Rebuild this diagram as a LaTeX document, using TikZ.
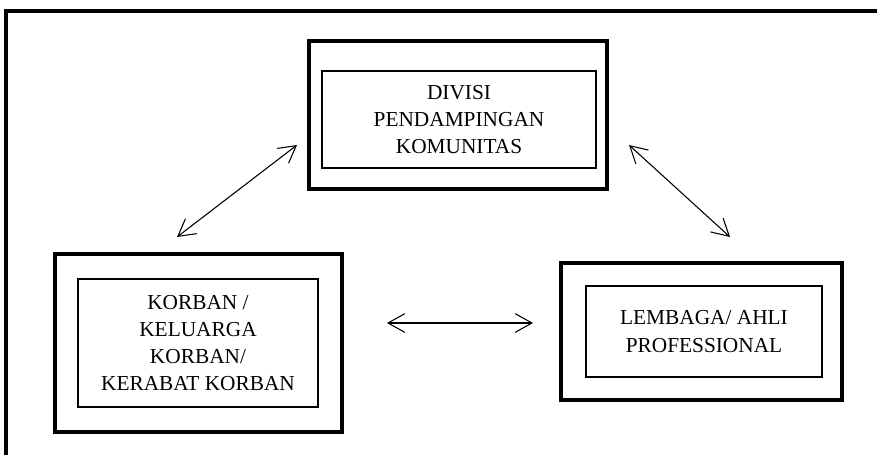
\documentclass[tikz,border=0pt]{standalone}
\usepackage{fontspec}
\setmainfont{Liberation Serif}
\usetikzlibrary{arrows.meta}

\begin{document}
\begin{tikzpicture}[x=0.75pt, y=-0.75pt,
  outerbox/.style={draw, line width=2.6pt, inner sep=0pt},
  innerbox/.style={draw, line width=1pt, inner sep=0pt, align=center, font=\fontsize{16}{20.3}\selectfont},
  link/.style={{Straight Barb[length=12.5pt,width=14pt]}-{Straight Barb[length=12.5pt,width=14pt]}, line width=0.8pt}]
\useasboundingbox (0,0) rectangle (877,455);
\draw[line width=2.4pt] (6,455) -- (6,11) -- (877,11);
% boxes
\node[outerbox, minimum width=223.5pt, minimum height=111pt] (divisiout) at (458,115) {};
\node[innerbox, minimum width=205.5pt, minimum height=72.75pt] (divisi) at (459,119.5) {DIVISI\\PENDAMPINGAN\\KOMUNITAS};
\node[outerbox, minimum width=215.25pt, minimum height=133.5pt] (korbanout) at (198.5,343) {};
\node[innerbox, minimum width=180pt, minimum height=96pt] (korban) at (198,343) {KORBAN /\\KELUARGA\\KORBAN/\\KERABAT KORBAN};
\node[outerbox, minimum width=210.75pt, minimum height=102.75pt] (lembagaout) at (701.5,331.5) {};
\node[innerbox, minimum width=177pt, minimum height=68.25pt] (lembaga) at (704,331.5) {LEMBAGA/ AHLI\\PROFESSIONAL};
% arrows
\coordinate (dk) at (297,145);
\coordinate (kd) at (177,237);
\coordinate (dl) at (629,145);
\coordinate (ld) at (730,237);
\coordinate (kl) at (387,323);
\coordinate (lk) at (533,323);
\draw[link] (kd) -- (dk);
\draw[link] (dl) -- (ld);
\draw[link] (kl) -- (lk);
\end{tikzpicture}
\end{document}
